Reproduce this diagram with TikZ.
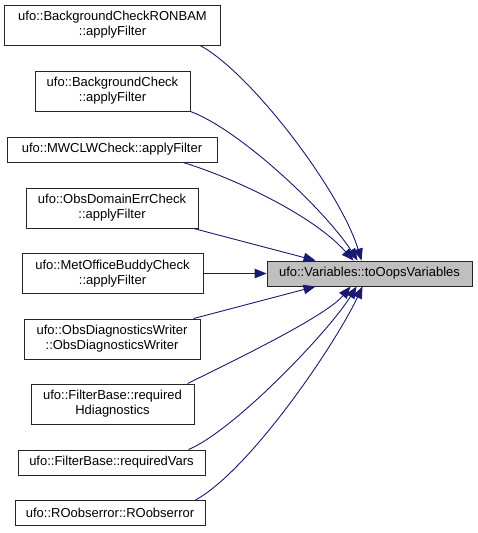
\documentclass[tikz,border=0pt]{standalone}
\usepackage{fontspec}
\setmainfont{Liberation Sans}
\usetikzlibrary{arrows.meta,calc}
\definecolor{edgeblue}{HTML}{191970}
\definecolor{tgtgray}{HTML}{BFBFBF}
\begin{document}
\begin{tikzpicture}[x=1pt,y=-1pt,
  box/.style={draw=black!85, line width=0.9pt, fill=white, align=center, inner sep=0pt, font=\fontsize{13}{15}\selectfont},
  one/.style={box, minimum height=25pt},
  two/.style={box, minimum height=40pt},
  edge/.style={draw=edgeblue, line width=0.9pt, -{Triangle[length=12pt,width=9.5pt]}}]
\useasboundingbox (0,0) rectangle (477,533);
\node[two, minimum width=216pt] (b1) at (112.5,25) {ufo::BackgroundCheckRONBAM\\::applyFilter};
\node[two, minimum width=155pt] (b2) at (112.5,91) {ufo::BackgroundCheck\\::applyFilter};
\node[one, minimum width=210pt] (b3) at (112,149.5) {ufo::MWCLWCheck::applyFilter};
\node[two, minimum width=172pt] (b4) at (112,208) {ufo::ObsDomainErrCheck\\::applyFilter};
\node[two, minimum width=181pt] (b5) at (112.5,273.5) {ufo::MetOfficeBuddyCheck\\::applyFilter};
\node[two, minimum width=176pt] (b6) at (112,339) {ufo::ObsDiagnosticsWriter\\::ObsDiagnosticsWriter};
\node[two, minimum width=163pt] (b7) at (112.5,404) {ufo::FilterBase::required\\Hdiagnostics};
\node[one, minimum width=187pt] (b8) at (111.5,462.5) {ufo::FilterBase::requiredVars};
\node[one, minimum width=190pt] (b9) at (110,513) {ufo::ROobserror::ROobserror};
\node[one, fill=tgtgray, minimum width=205pt] (t) at (369.5,273.5) {ufo::Variables::toOopsVariables};
\draw[edge] ($(b1.south)+(87.5,0)$) .. controls (250,72) and (340,190) .. ($(t.north west)+(95,0)$);
\draw[edge] (b2.south east) .. controls (240,130) and (325,210) .. ($(t.north west)+(91,0)$);
\draw[edge] ($(b3.south)+(71,0)$) .. controls (225,175) and (310,212) .. ($(t.north west)+(87,0)$);
\draw[edge] ($(b4.south east)+(-5,0)$) -- ($(t.north west)+(49,0)$);
\draw[edge] (b5.east) -- (t.west);
\draw[edge] ($(b6.north east)+(-7,0)$) -- ($(t.south west)+(49,0)$);
\draw[edge] ($(b7.north east)+(-7,0)$) .. controls (227,364) and (326,316.5) .. ($(t.south west)+(84,0)$);
\draw[edge] ($(b8.north east)+(-17,0)$) .. controls (235,430) and (330,330) .. ($(t.south west)+(90,0)$);
\draw[edge] ($(b9.north east)+(-10,0)$) .. controls (250,470) and (335,345) .. ($(t.south west)+(96,0)$);
\end{tikzpicture}
\end{document}
